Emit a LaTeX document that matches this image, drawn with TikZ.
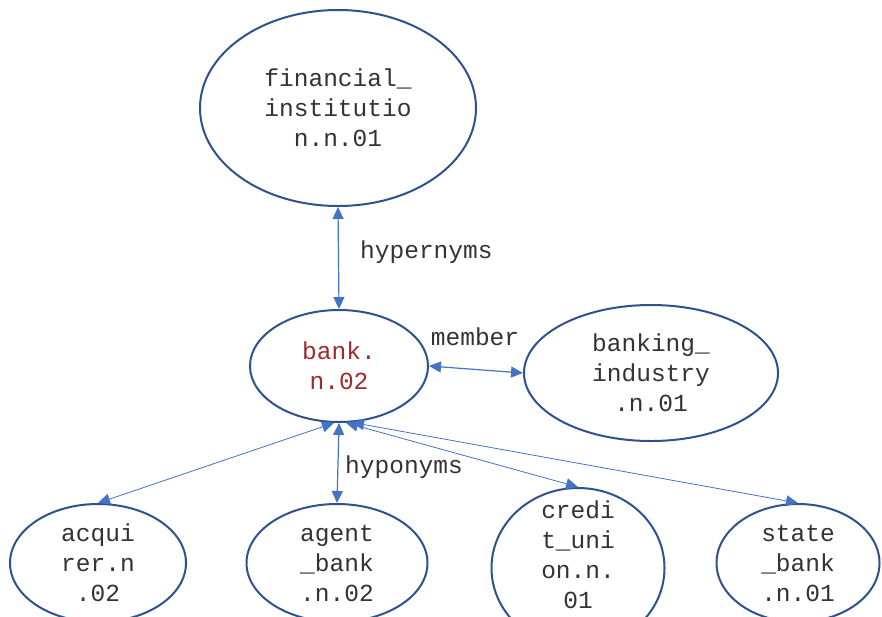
\documentclass[tikz,border=0pt]{standalone}
\usepackage{fontspec}
\setmonofont{Liberation Mono}
\usetikzlibrary{shapes.geometric,arrows.meta}
\definecolor{rim}{HTML}{2F528F}
\definecolor{link}{HTML}{4472C4}
\definecolor{focus}{HTML}{9E2A2B}
\tikzset{
  synset/.style={ellipse, draw=rim, line width=2pt, inner sep=0pt, align=center,
    font=\ttfamily\fontsize{24.5}{30}\selectfont, text=black!80},
  rel/.style={draw=link, line width=1.2pt, {Triangle[length=12pt,width=11pt]}-{Triangle[length=12pt,width=11pt]}},
  rellabel/.style={font=\ttfamily\fontsize{24.5}{30}\selectfont, text=black!80, inner sep=0pt, align=center}
}
\begin{document}
\begin{tikzpicture}[x=1pt,y=-1pt]
  \useasboundingbox (0,0) rectangle (882,616);
  \clip (0,0) rectangle (882,616);
  \fill[white] (0,0) rectangle (882,616);

  % synsets
  \node[synset, minimum width=276pt, minimum height=196pt] (fin) at (338,108)
    {financial\_\\institutio\\n.n.01};
  \node[synset, minimum width=178pt, minimum height=112pt, text=focus] (bank) at (339,366)
    {bank.\\n.02};
  \node[synset, minimum width=254pt, minimum height=136pt] (ind) at (651,373)
    {banking\_\\industry\\.n.01};
  \node[synset, minimum width=176pt, minimum height=118pt] (acq) at (98,563)
    {acqui\\rer.n\\.02};
  \node[synset, minimum width=181pt, minimum height=118pt] (agent) at (337,563)
    {agent\\\_bank\\.n.02};
  % the four-line label sits high inside its ellipse
  \node[synset, minimum width=173pt, minimum height=160pt,
        label={[rellabel, yshift=13pt]center:{credi\\t\_uni\\on.n.\\01}}] (credit) at (578,568) {};
  \node[synset, minimum width=163pt, minimum height=118pt] (state) at (798,563)
    {state\\\_bank\\.n.01};

  % relations
  \draw[rel] (fin.south) -- (bank.north);
  \draw[rel] (bank.east) -- (ind.west);
  \draw[rel, line width=0.8pt] (bank.265) -- (acq.north);
  \draw[rel] (bank.270) -- (agent.north);
  \draw[rel, line width=0.8pt] (bank.277) -- (credit.north);
  \draw[rel, line width=0.8pt] (bank.283) -- (state.north);

  % relation labels
  \node[rellabel, anchor=west] (lhyper) at (360,252) {hypernyms};
  \node[rellabel] (lmember) at (475,337) {member};
  \node[rellabel, anchor=west] (lhypo) at (345,467) {hyponyms};
\end{tikzpicture}
\end{document}
